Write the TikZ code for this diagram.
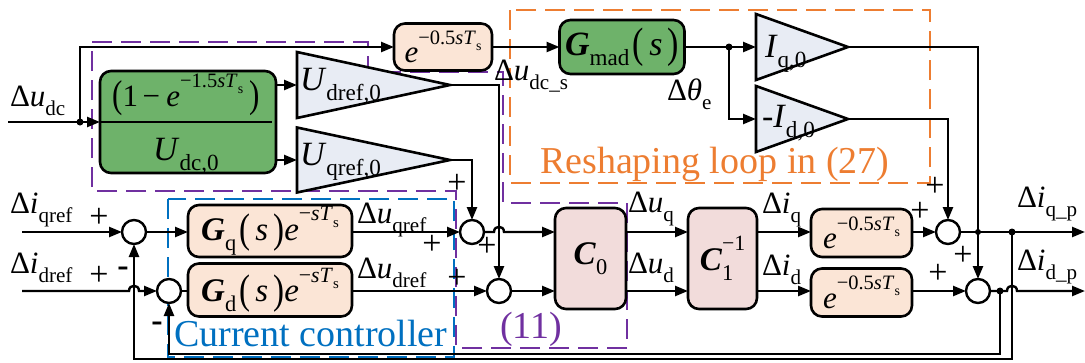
\documentclass[tikz,border=0pt]{standalone}
\usepackage{fontspec}
\setmainfont{Liberation Serif}
\usepackage{graphicx}
\usetikzlibrary{arrows.meta,shapes.geometric,calc}

\definecolor{gfill}{RGB}{110,178,106}
\definecolor{peach}{RGB}{251,229,214}
\definecolor{trifill}{RGB}{232,236,244}
\definecolor{cpink}{RGB}{242,220,219}
\definecolor{orng}{RGB}{237,125,49}
\definecolor{purp}{RGB}{112,48,160}
\definecolor{blu}{RGB}{0,112,192}

\newcommand{\sbs}[1]{\raisebox{-0.3em}{\scalebox{0.68}{#1}}}
\newcommand{\sps}[1]{\raisebox{0.6em}{\scalebox{0.66}{#1}}}
\newcommand{\bp}[1]{\raisebox{-0.05em}{\scalebox{1}[1.25]{#1}}}
\newcommand{\bG}{\textbf{\textit{G}}}
\newcommand{\bC}{\textbf{\textit{C}}}
\newcommand{\esT}[1]{\textit{e}\sps{−#1\textit{sT}\sbs{s}}}

\tikzset{
  wire/.style={line width=2.4pt},
  arr/.style={wire,-{Triangle[length=13pt,width=10pt]}},
  blk/.style={draw, line width=2.6pt, rounded corners=11pt, inner sep=0pt},
  gblk/.style={blk, fill=gfill},
  pblk/.style={blk, fill=peach},
  cblk/.style={blk, fill=cpink},
  tri/.style={draw, line width=2.6pt, fill=trifill, isosceles triangle,
    isosceles triangle stretches, inner sep=0pt, shape border rotate=0},
  sumn/.style={draw, circle, line width=2.4pt, minimum size=24pt, inner sep=0pt, fill=white},
  jdot/.style={circle, fill=black, minimum size=7pt, inner sep=0pt},
  lbl/.style={anchor=base west},
  sgn/.style={font=\fontsize{34}{36}\selectfont},
  big/.style={font=\fontsize{34}{38}\selectfont},
  ctext/.style={anchor=base west, font=\fontsize{38}{40}\selectfont},
  dbox/.style={line width=1.6pt, dash pattern=on 20pt off 9pt},
}

\begin{document}
\begin{tikzpicture}[x=1pt,y=-1pt,
  every node/.style={font=\fontsize{31}{36}\selectfont, inner sep=0pt, outer sep=0pt}]
\useasboundingbox (0,0) rectangle (1085,362);

% dashed regions
\draw[dbox, draw=orng] (510,10) rectangle (930,183);
\draw[dbox, draw=purp] (92,42) -- (368,42) -- (368,72) -- (503,72) -- (503,203) -- (627,203)
  -- (627,348) -- (456,348) -- (456,191) -- (92,191) -- cycle;
\draw[dbox, draw=blu] (168,199) rectangle (454,357);

% upper blocks
\node[gblk, minimum width=176pt, minimum height=102pt] (frac) at (188,122) {};
\draw[line width=2pt] (frac.west) -- ($(frac.east)+(-4,0)$);
\node[anchor=base, font=\fontsize{31}{36}\selectfont] (num) at (186,106) {\bp{(}1\hspace{0.15em}−\hspace{0.2em}\textit{e}\sps{−1.5\textit{sT}\sbs{s}}\hspace{0.2em}\bp{)}};
\node[anchor=base, big] (den) at (186,160) {\textit{U}\sbs{dc,0}};

\node[tri, minimum height=153pt, minimum width=66pt, anchor=apex] (udt) at (450,85) {};
\node[tri, minimum height=153pt, minimum width=65pt, anchor=apex] (uqt) at (450,160) {};
\node[lbl, big] (udl) at (300,90) {\textit{U}\sbs{dref,0}};
\node[lbl, big] (uql) at (300,165) {\textit{U}\sbs{qref,0}};

\node[pblk, minimum width=98pt, minimum height=47pt] (e1) at (443,47) {\esT{0.5}};
\node[gblk, minimum width=125pt, minimum height=54pt, font=\fontsize{34}{38}\selectfont] (gm) at (622,47) {\bG\sbs{mad}\hspace{0.1em}\bp{(}\hspace{0.15em}\textit{s}\hspace{0.15em}\bp{)}};

\node[tri, minimum height=92pt, minimum width=66pt, anchor=apex] (iqt) at (848,47) {};
\node[tri, minimum height=92pt, minimum width=66pt, anchor=apex] (idt) at (848,119) {};
\node[lbl, big] (iql) at (765,57) {\textit{I}\sbs{q,0}};
\node[lbl, big] (idl) at (762,127) {-\textit{I}\sbs{d,0}};

% lower blocks
\node[sumn] (qs1) at (134,232) {};
\node[sumn] (ds1) at (169,291) {};
\node[pblk, minimum width=164pt, minimum height=52pt, font=\fontsize{33}{38}\selectfont] (gq) at (270,231) {\bG\sbs{q}\hspace{0.1em}\bp{(}\hspace{0.15em}\textit{s}\hspace{0.15em}\bp{)}\esT{}};
\node[pblk, minimum width=164pt, minimum height=53pt, font=\fontsize{33}{38}\selectfont] (gd) at (270,290) {\bG\sbs{d}\hspace{0.1em}\bp{(}\hspace{0.15em}\textit{s}\hspace{0.15em}\bp{)}\esT{}};
\node[sumn] (qs2) at (472,232) {};
\node[sumn] (ds2) at (499,291) {};
\node[cblk, minimum width=71pt, minimum height=101pt] (c0) at (590.5,258.5) {\fontsize{33}{36}\selectfont\bC\sbs{0}};
\node[cblk, minimum width=69pt, minimum height=101pt] (c1) at (722.5,258.5) {\fontsize{33}{36}\selectfont\bC\rlap{\sbs{1}}\sps{−1}};
\node[pblk, minimum width=101pt, minimum height=48pt] (qd) at (861.5,233) {\esT{0.5}};
\node[pblk, minimum width=101pt, minimum height=48pt] (dd) at (861.5,292.5) {\esT{0.5}};
\node[sumn] (qs3) at (948,232) {};
\node[sumn] (ds3) at (978,291) {};

% junctions and free ends
\coordinate (uin) at (8,122);
\node[jdot] (j1) at (80,122) {};
\node[jdot] (j2) at (729,47) {};
\coordinate (iqin) at (22,232);
\coordinate (idin) at (22,291);
\coordinate (qout) at (1085,232);
\coordinate (dout) at (1085,291);
\node[jdot, minimum size=6pt] (jx) at (978,232) {};
\node[jdot] (jq) at (1012,232) {};
\node[jdot] (jd) at (1000,291) {};
\coordinate (bq1) at (1012,359);
\coordinate (bd1) at (1000,354);

% upper connectors
\draw[arr] (uin) -- (frac.west);
\draw[arr] (j1.center) |- (e1.west);
\draw[arr] (frac.east |- udt.west) -- (udt.west);
\draw[arr] (frac.east |- uqt.west) -- (uqt.west);
\draw[arr] (e1.east) -- (gm.west);
\draw[wire] (gm.east) -- (j2.center);
\draw[arr] (j2.center) -- (iqt.west);
\draw[arr] (j2.center) |- (idt.west);
\draw[arr] (udt.apex) -| (ds2.north);
\draw[arr] (uqt.apex) -| (qs2.north);
\draw[arr] (iqt.apex) -| (ds3.north);
\draw[arr] (idt.apex) -| (qs3.north);

% lower connectors
\draw[arr] (iqin) -- (qs1.west);
\draw[arr] (idin) -- (129,291) .. controls (129,284) and (139,284) .. (139,291) -- (ds1.west);
\draw[arr] (qs1.east) -- (gq.west |- qs1);
\draw[wire] (ds1.east) -- (gd.west |- ds1);
\draw[arr] (gq.east |- qs2) -- (qs2.west);
\draw[arr] (gd.east |- ds2) -- (ds2.west);
\draw[arr] (qs2.east) -- (494,232) .. controls (494,225) and (504,225) .. (504,232) -- (c0.west |- qs2);
\draw[arr] (ds2.east) -- (c0.west |- ds2);
\draw[arr] (c0.east |- qs2) -- (c1.west |- qs2);
\draw[arr] (c0.east |- ds2) -- (c1.west |- ds2);
\draw[arr] (c1.east |- qs2) -- (qd.west |- qs2);
\draw[arr] (c1.east |- ds2) -- (dd.west |- ds2);
\draw[arr] (qd.east |- qs3) -- (qs3.west);
\draw[arr] (dd.east |- ds3) -- (ds3.west);
\draw[arr] (qs3.east) -- (qout);
\draw[arr] (ds3.east) -- (1007,291) .. controls (1007,284) and (1017,284) .. (1017,291) -- (dout);
\draw[arr] (jq.center) -- (bq1) -| (qs1.south);
\draw[arr] (jd.center) -- (bd1) -| (ds1.south);

% labels
\node[lbl] (l_udc) at (10,106) {Δ\textit{u}\sbs{dc}};
\node[lbl] (l_udcs) at (494,80) {Δ\textit{u}\sbs{dc\_s}};
\node[lbl] (l_th) at (667,100) {Δ\textit{θ}\sbs{e}};
\node[ctext, text=orng] (l_resh) at (540,173) {Reshaping loop in (27)};
\node[ctext, text=blu] (l_cc) at (174,346) {Current controller};
\node[ctext, text=purp] (l_11) at (500,338) {(11)};

\node[lbl] (l_iq) at (10,213) {Δ\textit{i}\sbs{qref}};
\node[lbl] (l_id) at (10,273) {Δ\textit{i}\sbs{dref}};
\node[lbl] (l_uqr) at (357,223) {Δ\textit{u}\sbs{qref}};
\node[lbl] (l_udr) at (357,278) {Δ\textit{u}\sbs{dref}};
\node[lbl] (l_uq) at (628,212) {Δ\textit{u}\sbs{q}};
\node[lbl] (l_ud) at (628,273) {Δ\textit{u}\sbs{d}};
\node[lbl] (l_iiq) at (762,213) {Δ\textit{i}\sbs{q}};
\node[lbl] (l_iid) at (762,275) {Δ\textit{i}\sbs{d}};
\node[lbl] (l_iqp) at (1017,207) {Δ\textit{i}\sbs{q\_p}};
\node[lbl] (l_idp) at (1017,270) {Δ\textit{i}\sbs{d\_p}};

% signs
\node[sgn] (s1) at (99,218) {+};
\node[sgn] (s2) at (99,276) {+};
\node[sgn] (s3) at (123,272) {\textbf{-}};
\node[sgn] (s4) at (157,327) {\textbf{-}};
\node[sgn] (s5) at (457,184) {+};
\node[sgn] (s6) at (432,245) {+};
\node[sgn] (s7) at (487,247) {+};
\node[sgn] (s8) at (457,279) {+};
\node[sgn] (s9) at (935,187) {+};
\node[sgn] (s10) at (920,212) {+};
\node[sgn] (s11) at (963,256) {+};
\node[sgn] (s12) at (938,274) {+};
\end{tikzpicture}
\end{document}
